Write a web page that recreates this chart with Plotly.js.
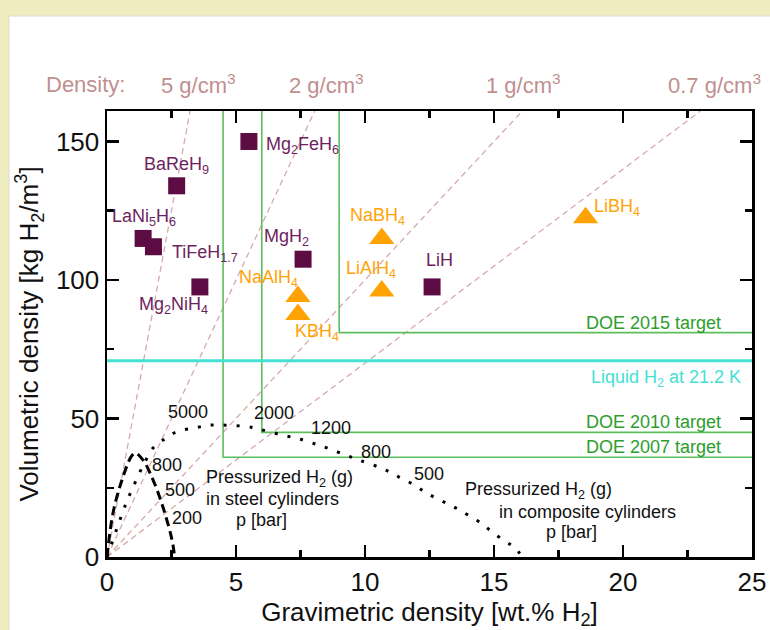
<!DOCTYPE html>
<html><head><meta charset="utf-8">
<script src="https://cdn.plot.ly/plotly-3.0.1.min.js"></script>
<style>html,body{margin:0;padding:0;background:#efecbf;} #chart{width:770px;height:630px;}</style>
</head><body><div id="chart"></div>
<script>
// ---- Data ----
// Metal hydrides (squares)
const hydrideNames = ['Mg<sub>2</sub>FeH<sub>6</sub>','BaReH<sub>9</sub>','LaNi<sub>5</sub>H<sub>6</sub>','TiFeH<sub>1.7</sub>','Mg<sub>2</sub>NiH<sub>4</sub>','MgH<sub>2</sub>','LiH'];
const hydrideGrav = [5.5, 2.7, 1.4, 1.8, 3.6, 7.6, 12.6];
const hydrideVol  = [150, 134, 115, 112, 97.5, 107.5, 97.5];
// Complex hydrides (triangles)
const complexNames = ['NaAlH<sub>4</sub>','KBH<sub>4</sub>','NaBH<sub>4</sub>','LiAlH<sub>4</sub>','LiBH<sub>4</sub>'];
const complexGrav = [7.4, 7.4, 10.65, 10.65, 18.55];
const complexVol  = [94, 87.5, 115, 96, 122.5];
// Material density lines (g/cm3)
const densities = [5, 2, 1, 0.7];
const densityText = ['5 g/cm<sup>3</sup>', '2 g/cm<sup>3</sup>', '1 g/cm<sup>3</sup>', '0.7 g/cm<sup>3</sup>'];
// DOE targets
const doeNames = ['DOE 2007 target', 'DOE 2010 target', 'DOE 2015 target'];
const doeGrav = [4.5, 6, 9];
const doeVol  = [36, 45, 81];
// Liquid hydrogen
const liquidH2Vol = 70.8;
// Pressurized H2 in steel cylinders
const steelGrav = [0, 0.23, 0.57, 0.95, 1.1, 1.4, 1.8, 2.1, 2.3, 2.5, 2.6, 2.6];
const steelVol  = [0, 15.7, 27.5, 36.4, 37.5, 35, 27.5, 20, 14, 7, 1.5, 0];
const steelPress = ['800', '500', '200'];
const steelPressGrav = [2.34, 2.83, 3.1];
const steelPressVol  = [33.3, 24.1, 13.9];
// Pressurized H2 in composite cylinders
const compGrav = [0, 0.74, 1.02, 1.4, 1.8, 2.25, 2.7, 3.4, 4.0, 4.6, 5.4, 5.8, 6.4, 7.0, 7.5, 8.1, 8.6, 9.3, 9.8, 10.6, 11.0, 11.4, 11.9, 12.3, 12.7, 13.2, 13.6, 14.0, 14.5, 14.9, 15.4, 15.8, 16.1];
const compVol  = [0, 19.4, 25.4, 33, 39.5, 42.7, 45.2, 46.6, 47.6, 47.6, 47.1, 46.4, 44.9, 43.6, 42.5, 40.7, 39.1, 36.6, 34.9, 32.2, 30.5, 28.4, 26.1, 23.6, 21.5, 19.2, 17.3, 15.1, 12.2, 9.2, 5.9, 3.4, 0];
const compPress = ['5000', '2000', '1200', '800', '500'];
const compPressGrav = [3.14, 6.47, 8.68, 10.43, 12.48];
const compPressVol  = [52.3, 51.9, 46.5, 37.8, 29.9];

// ---- Styling / layout ----
const FONT = '"Liberation Sans", Arial, Helvetica, sans-serif';
const XMAX = 25, YMAX = 161;
const purple = '#5c0b43', purpleText = '#6e1f5e';
const orange = '#ffa305';
const greenLine = '#5cbf5c', greenText = '#2b9e2b';
const cyan = '#44e0d4';
const rosy = '#d4abab', rosyText = '#bf8f8f';

const traces = [];
// density lines
densities.forEach(d => {
  traces.push({x: [0, YMAX / (10 * d)], y: [0, YMAX], mode: 'lines', hoverinfo: 'skip',
    line: {color: rosy, width: 1.3, dash: '6px,4px'}});
});
// DOE targets
doeGrav.forEach((g, i) => {
  traces.push({x: [g, g, XMAX], y: [YMAX, doeVol[i], doeVol[i]], mode: 'lines', hoverinfo: 'skip',
    line: {color: greenLine, width: 1.6}});
});
// liquid H2
traces.push({x: [0, XMAX], y: [liquidH2Vol, liquidH2Vol], mode: 'lines', hoverinfo: 'skip',
  line: {color: cyan, width: 3}});
// steel cylinders
traces.push({x: steelGrav, y: steelVol, mode: 'lines', hoverinfo: 'skip',
  line: {color: '#000', width: 3, dash: '9px,5px', shape: 'spline'}});
// composite cylinders
traces.push({x: compGrav, y: compVol, mode: 'lines', hoverinfo: 'skip',
  line: {color: '#000', width: 3, dash: '3px,10px', shape: 'spline'}});
// hydrides
traces.push({x: hydrideGrav, y: hydrideVol, mode: 'markers', text: hydrideNames,
  marker: {symbol: 'square', size: 17, color: purple}});
traces.push({x: complexGrav, y: complexVol, mode: 'markers', text: complexNames,
  marker: {symbol: 'triangle-up', size: 22, color: orange}});

const ann = [];
// marker label offsets (pixels)
const hydrideOff = [
  {xanchor: 'left', xshift: 15, yshift: -4},
  {xshift: 0, yshift: 20},
  {xshift: 1, yshift: 21},
  {xanchor: 'left', xshift: 17, yshift: -7},
  {xshift: -26, yshift: -19},
  {xshift: -17, yshift: 22},
  {xshift: 7, yshift: 27}
];
hydrideNames.forEach((n, i) => {
  ann.push(Object.assign({x: hydrideGrav[i], y: hydrideVol[i], xref: 'x', yref: 'y', text: n,
    showarrow: false, font: {family: FONT, size: 18, color: purpleText}}, hydrideOff[i]));
});
const complexOff = [
  {xshift: -29, yshift: 18},
  {xshift: 19, yshift: -18},
  {xshift: -4, yshift: 22},
  {xshift: -11, yshift: 22},
  {xshift: 31, yshift: 10}
];
complexNames.forEach((n, i) => {
  ann.push(Object.assign({x: complexGrav[i], y: complexVol[i], xref: 'x', yref: 'y', text: n,
    showarrow: false, font: {family: FONT, size: 18, color: orange}}, complexOff[i]));
});
// density labels
const densLeft = [0.0806, 0.279, 0.5845, 0.8667];
ann.push({x: -0.0977, y: 1.06, xref: 'paper', yref: 'paper', xanchor: 'left', yanchor: 'middle',
  text: 'Density:', showarrow: false, font: {family: FONT, size: 22, color: rosyText}});
densityText.forEach((t, i) => {
  ann.push({x: densLeft[i], y: 1.06, xref: 'paper', yref: 'paper', xanchor: 'left', yanchor: 'middle',
    text: t, showarrow: false, font: {family: FONT, size: 22, color: rosyText}});
});
// DOE labels
doeNames.forEach((t, i) => {
  ann.push({x: XMAX, y: doeVol[i], xref: 'x', yref: 'y', xanchor: 'right', yanchor: 'middle',
    xshift: -29, yshift: 10, text: t, showarrow: false, font: {family: FONT, size: 18, color: greenText}});
});
ann.push({x: XMAX, y: liquidH2Vol, xref: 'x', yref: 'y', xanchor: 'right', yanchor: 'middle',
  xshift: -9, yshift: -18, text: 'Liquid H<sub>2</sub> at 21.2 K', showarrow: false,
  font: {family: FONT, size: 18, color: cyan}});
// pressure labels
steelPress.forEach((t, i) => {
  ann.push({x: steelPressGrav[i], y: steelPressVol[i], xref: 'x', yref: 'y', text: t, showarrow: false,
    font: {family: FONT, size: 18, color: '#111'}});
});
compPress.forEach((t, i) => {
  ann.push({x: compPressGrav[i], y: compPressVol[i], xref: 'x', yref: 'y', text: t, showarrow: false,
    font: {family: FONT, size: 18, color: '#111'}});
});
// descriptive text
const descr = [
  ['Pressurized H<sub>2</sub> (g)', 6.67, 28.4],
  ['in steel cylinders', 6.43, 21.0],
  ['p [bar]', 5.97, 13.3],
  ['Pressurized H<sub>2</sub> (g)', 16.74, 24.1],
  ['in composite cylinders', 18.64, 16.3],
  ['p [bar]', 18.02, 9.0]
];
descr.forEach(d => {
  ann.push({x: d[1], y: d[2], xref: 'x', yref: 'y', text: d[0], showarrow: false,
    font: {family: FONT, size: 18, color: '#111'}});
});

const axisCommon = {
  showline: true, linecolor: '#000', linewidth: 2.5, mirror: 'ticks',
  ticks: 'inside', ticklen: 12, tickwidth: 2.5, tickcolor: '#000',
  showgrid: false, zeroline: false,
  tickfont: {family: FONT, size: 26, color: '#111'}
};

const layout = {
  width: 770, height: 630,
  paper_bgcolor: '#efecbf', plot_bgcolor: 'rgba(0,0,0,0)',
  margin: {l: 107, r: 18, t: 111, b: 73},
  showlegend: false,
  font: {family: FONT},
  xaxis: Object.assign({}, axisCommon, {
    range: [0, XMAX], dtick: 5, tick0: 0,
    minor: {dtick: 2.5, ticks: 'inside', ticklen: 7, tickwidth: 2.5, tickcolor: '#000'},
    title: {text: 'Gravimetric density [wt.% H<sub>2</sub>]', font: {family: FONT, size: 26, color: '#111'}, standoff: 2}
  }),
  yaxis: Object.assign({}, axisCommon, {
    range: [0, YMAX], dtick: 50, tick0: 0,
    minor: {dtick: 25, ticks: 'inside', ticklen: 7, tickwidth: 2.5, tickcolor: '#000'},
    title: {text: 'Volumetric density [kg H<sub>2</sub>/m<sup>3</sup>]', font: {family: FONT, size: 26, color: '#111'}, standoff: 10}
  }),
  shapes: [{type: 'rect', xref: 'paper', yref: 'paper', layer: 'below',
    x0: -0.1519, x1: 1.06, y0: -0.2, y1: 1.213,
    fillcolor: '#ffffff', line: {color: '#dcdcd4', width: 1}}],
  annotations: ann
};

Plotly.newPlot('chart', traces, layout, {displayModeBar: false, staticPlot: true});
</script>
</body></html>
